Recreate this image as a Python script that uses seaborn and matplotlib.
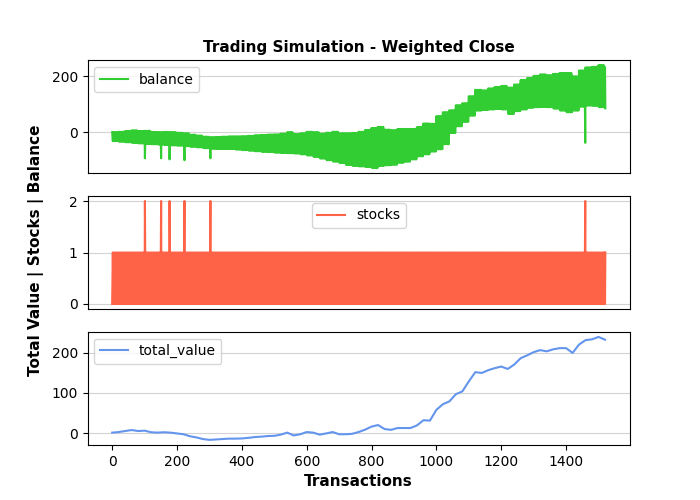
import numpy as np
import pandas as pd
import seaborn as sns
import matplotlib
matplotlib.use("Agg")
import matplotlib.pyplot as plt

# readings every 20 transactions (0 .. 1520)
tx_grid = list(range(0, 1521, 20))

total_value = [1, 2.5, 5, 7.5, 5, 6, 2, 1, 2, 1,
               -1, -3, -8, -11, -15, -17, -16, -15, -14, -14,
               -13.5, -12, -10, -9, -7.5, -7, -4, 1, -6, -3,
               2.5, 1, -4, -1, 2.5, -3, -3, -2, 2.5, 8.5,
               16, 20, 10, 8, 12.5, 12.5, 12.5, 19, 32, 31,
               58, 72, 79, 97, 104, 129, 152, 150, 157, 162,
               166, 160, 171, 187, 194, 202, 207, 204, 209, 212,
               212, 200, 221, 232, 234, 240, 233]

# balance while holding one share (lower edge of the green band)
balance_low = [-31, -33, -35, -37, -39, -41, -42, -43, -45, -46,
               -47, -49, -51, -53, -56, -58, -59, -59, -59, -61,
               -63, -65, -67, -69, -70, -72, -73, -74, -75, -78,
               -82, -87, -93, -99, -104, -109, -116, -119, -121, -123,
               -127, -119, -117, -115, -108, -104, -96, -85, -78, -68,
               -60, -42, -2, 22, 38, 60, 78, 80, 82, 84,
               82, 66, 76, 82, 88, 90, 91, 90, 85, 78,
               72, 78, 92, 96, 95, 90, 86]

# transactions where two shares were held
spike_tx = [101, 151, 177, 223, 303, 1459]
spike_balance = [-92, -92, -96, -99, -92, -37]
spike_stocks = [2, 2, 2, 2, 2, 2]

GREEN = "#32cd32"
RED = "#ff6347"
BLUE = "#6495ed"

# buy / sell alternate, so balance and stocks swing between the two states
rows = []
for i, x in enumerate(tx_grid):
    offsets = range(0, 20, 2) if i < len(tx_grid) - 1 else (0, 1)
    for k, off in enumerate(offsets):
        if k % 2 == 0:
            rows.append((x + off, total_value[i], 0))
        else:
            rows.append((x + off, balance_low[i], 1))
for x, b, s in zip(spike_tx, spike_balance, spike_stocks):
    rows.append((x, b, s))
sim = pd.DataFrame(rows, columns=["tx", "balance", "stocks"]).sort_values("tx")
tv = pd.DataFrame({"tx": tx_grid, "total_value": total_value})

fig, axes = plt.subplots(3, 1, figsize=(7, 5), sharex=True)

sns.lineplot(data=sim, x="tx", y="balance", ax=axes[0], color=GREEN,
             estimator=None, label="balance")
sns.lineplot(data=sim, x="tx", y="stocks", ax=axes[1], color=RED,
             estimator=None, label="stocks")
sns.lineplot(data=tv, x="tx", y="total_value", ax=axes[2], color=BLUE,
             estimator=None, label="total_value")

axes[0].set_title("Trading Simulation - Weighted Close", fontsize=11, fontweight="bold")
axes[0].legend(loc="upper left")
axes[1].legend(loc="upper center")
axes[2].legend(loc="upper left")
axes[0].set_yticks([0, 200])
axes[1].set_yticks([0, 1, 2])
axes[2].set_yticks([0, 100, 200])

for ax in axes:
    ax.set_ylabel("")
    ax.set_xlabel("")
    ax.grid(axis="y", color="#d3d3d3", linewidth=0.8)
    ax.set_axisbelow(True)
for ax in axes[:2]:
    ax.tick_params(axis="x", bottom=False)

axes[2].set_xlabel("Transactions", fontsize=11, fontweight="bold")
fig.supylabel("Total Value | Stocks | Balance", x=0.04, fontsize=11, fontweight="bold")

plt.savefig("out.png", dpi=100)
